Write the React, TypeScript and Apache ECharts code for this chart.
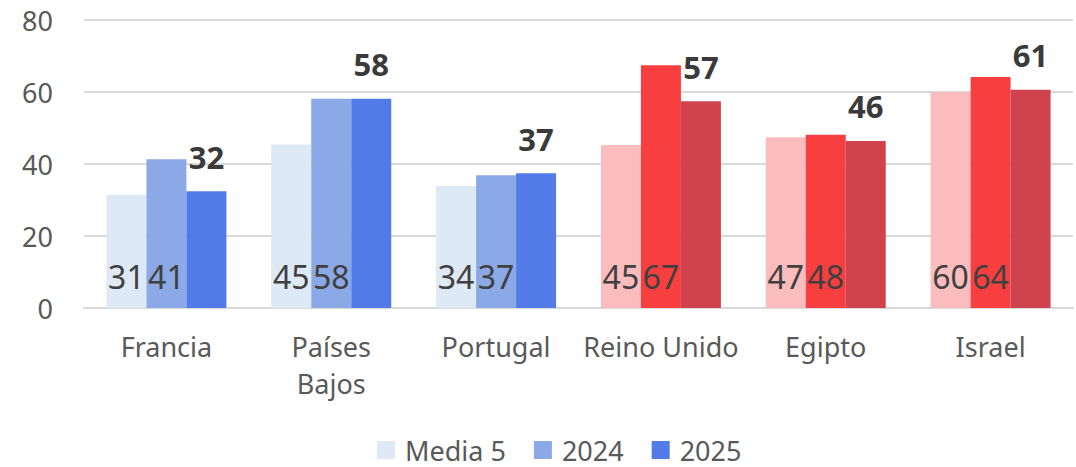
import React, { useEffect, useRef } from "react";
import * as echarts from "echarts";

const categories = ["Francia", "Países\nBajos", "Portugal", "Reino Unido", "Egipto", "Israel"];
const media5 = [31.4, 45.4, 33.9, 45.3, 47.4, 60.0];
const y2024 = [41.3, 58.1, 36.9, 67.4, 48.1, 64.2];
const y2025 = [32.4, 58.1, 37.4, 57.4, 46.4, 60.6];
const seriesNames = ["Media 5", "2024", "2025"];
const isRed = [false, false, false, true, true, true];
const bluePalette = ["#DEE9F6", "#8BA9E6", "#527BE8"];
const redPalette = ["#FBBCBD", "#F73F40", "#D0434D"];
const yTicks = [0, 20, 40, 60, 80];

const FONT = "'Source Sans Pro', 'Noto Sans', sans-serif";

export default function App() {
  const ref = useRef<HTMLDivElement>(null);
  useEffect(() => {
    document.body.style.margin = "0";
    if (!ref.current) return;
    const chart = echarts.init(ref.current, null, { renderer: "svg" });
    const all = [media5, y2024, y2025];
    const series = all.map((vals, si) => ({
      name: seriesNames[si],
      type: "bar",
      barWidth: 40,
      barGap: "0%",
      itemStyle: { color: bluePalette[si] },
      data: vals.map((v, ci) => ({
        value: v,
        itemStyle: { color: (isRed[ci] ? redPalette : bluePalette)[si] },
      })),
      label:
        si < 2
          ? {
              show: true,
              position: "insideBottom",
              distance: 16,
              fontFamily: FONT,
              fontSize: 32,
              color: "#404040",
              formatter: (p: any) => String(Math.round(p.value)),
            }
          : {
              show: true,
              position: "top",
              distance: 19,
              fontFamily: FONT,
              fontSize: 31,
              fontWeight: "bold",
              color: "#3A3A3A",
              formatter: (p: any) => String(Math.round(p.value)),
            },
    }));
    chart.setOption({
      animation: false,
      textStyle: { fontFamily: FONT },
      grid: { left: 84, right: 3, top: 20, bottom: 159, containLabel: false },
      legend: {
        bottom: 3,
        left: 377,
        padding: 0,
        itemWidth: 18,
        itemHeight: 18,
        itemGap: 28,
        icon: "rect",
        textStyle: {
          fontFamily: FONT,
          fontSize: 27,
          lineHeight: 28,
          color: "#595959",
          padding: [0, 0, 0, 5],
        },
        data: seriesNames,
      },
      xAxis: {
        type: "category",
        data: categories,
        axisTick: { show: false },
        axisLine: { lineStyle: { color: "#D9D9D9", width: 2 } },
        axisLabel: {
          interval: 0,
          margin: 20,
          fontFamily: FONT,
          fontSize: 27,
          lineHeight: 37,
          color: "#595959",
        },
      },
      yAxis: {
        type: "value",
        min: yTicks[0],
        max: yTicks[yTicks.length - 1],
        interval: 20,
        axisLine: { show: false },
        axisTick: { show: false },
        splitLine: { lineStyle: { color: "#D9D9D9", width: 2 } },
        axisLabel: { margin: 31, fontFamily: FONT, fontSize: 27, color: "#595959" },
      },
      series,
    });
    return () => chart.dispose();
  }, []);
  return <div ref={ref} style={{ width: 1076, height: 467 }} />;
}
